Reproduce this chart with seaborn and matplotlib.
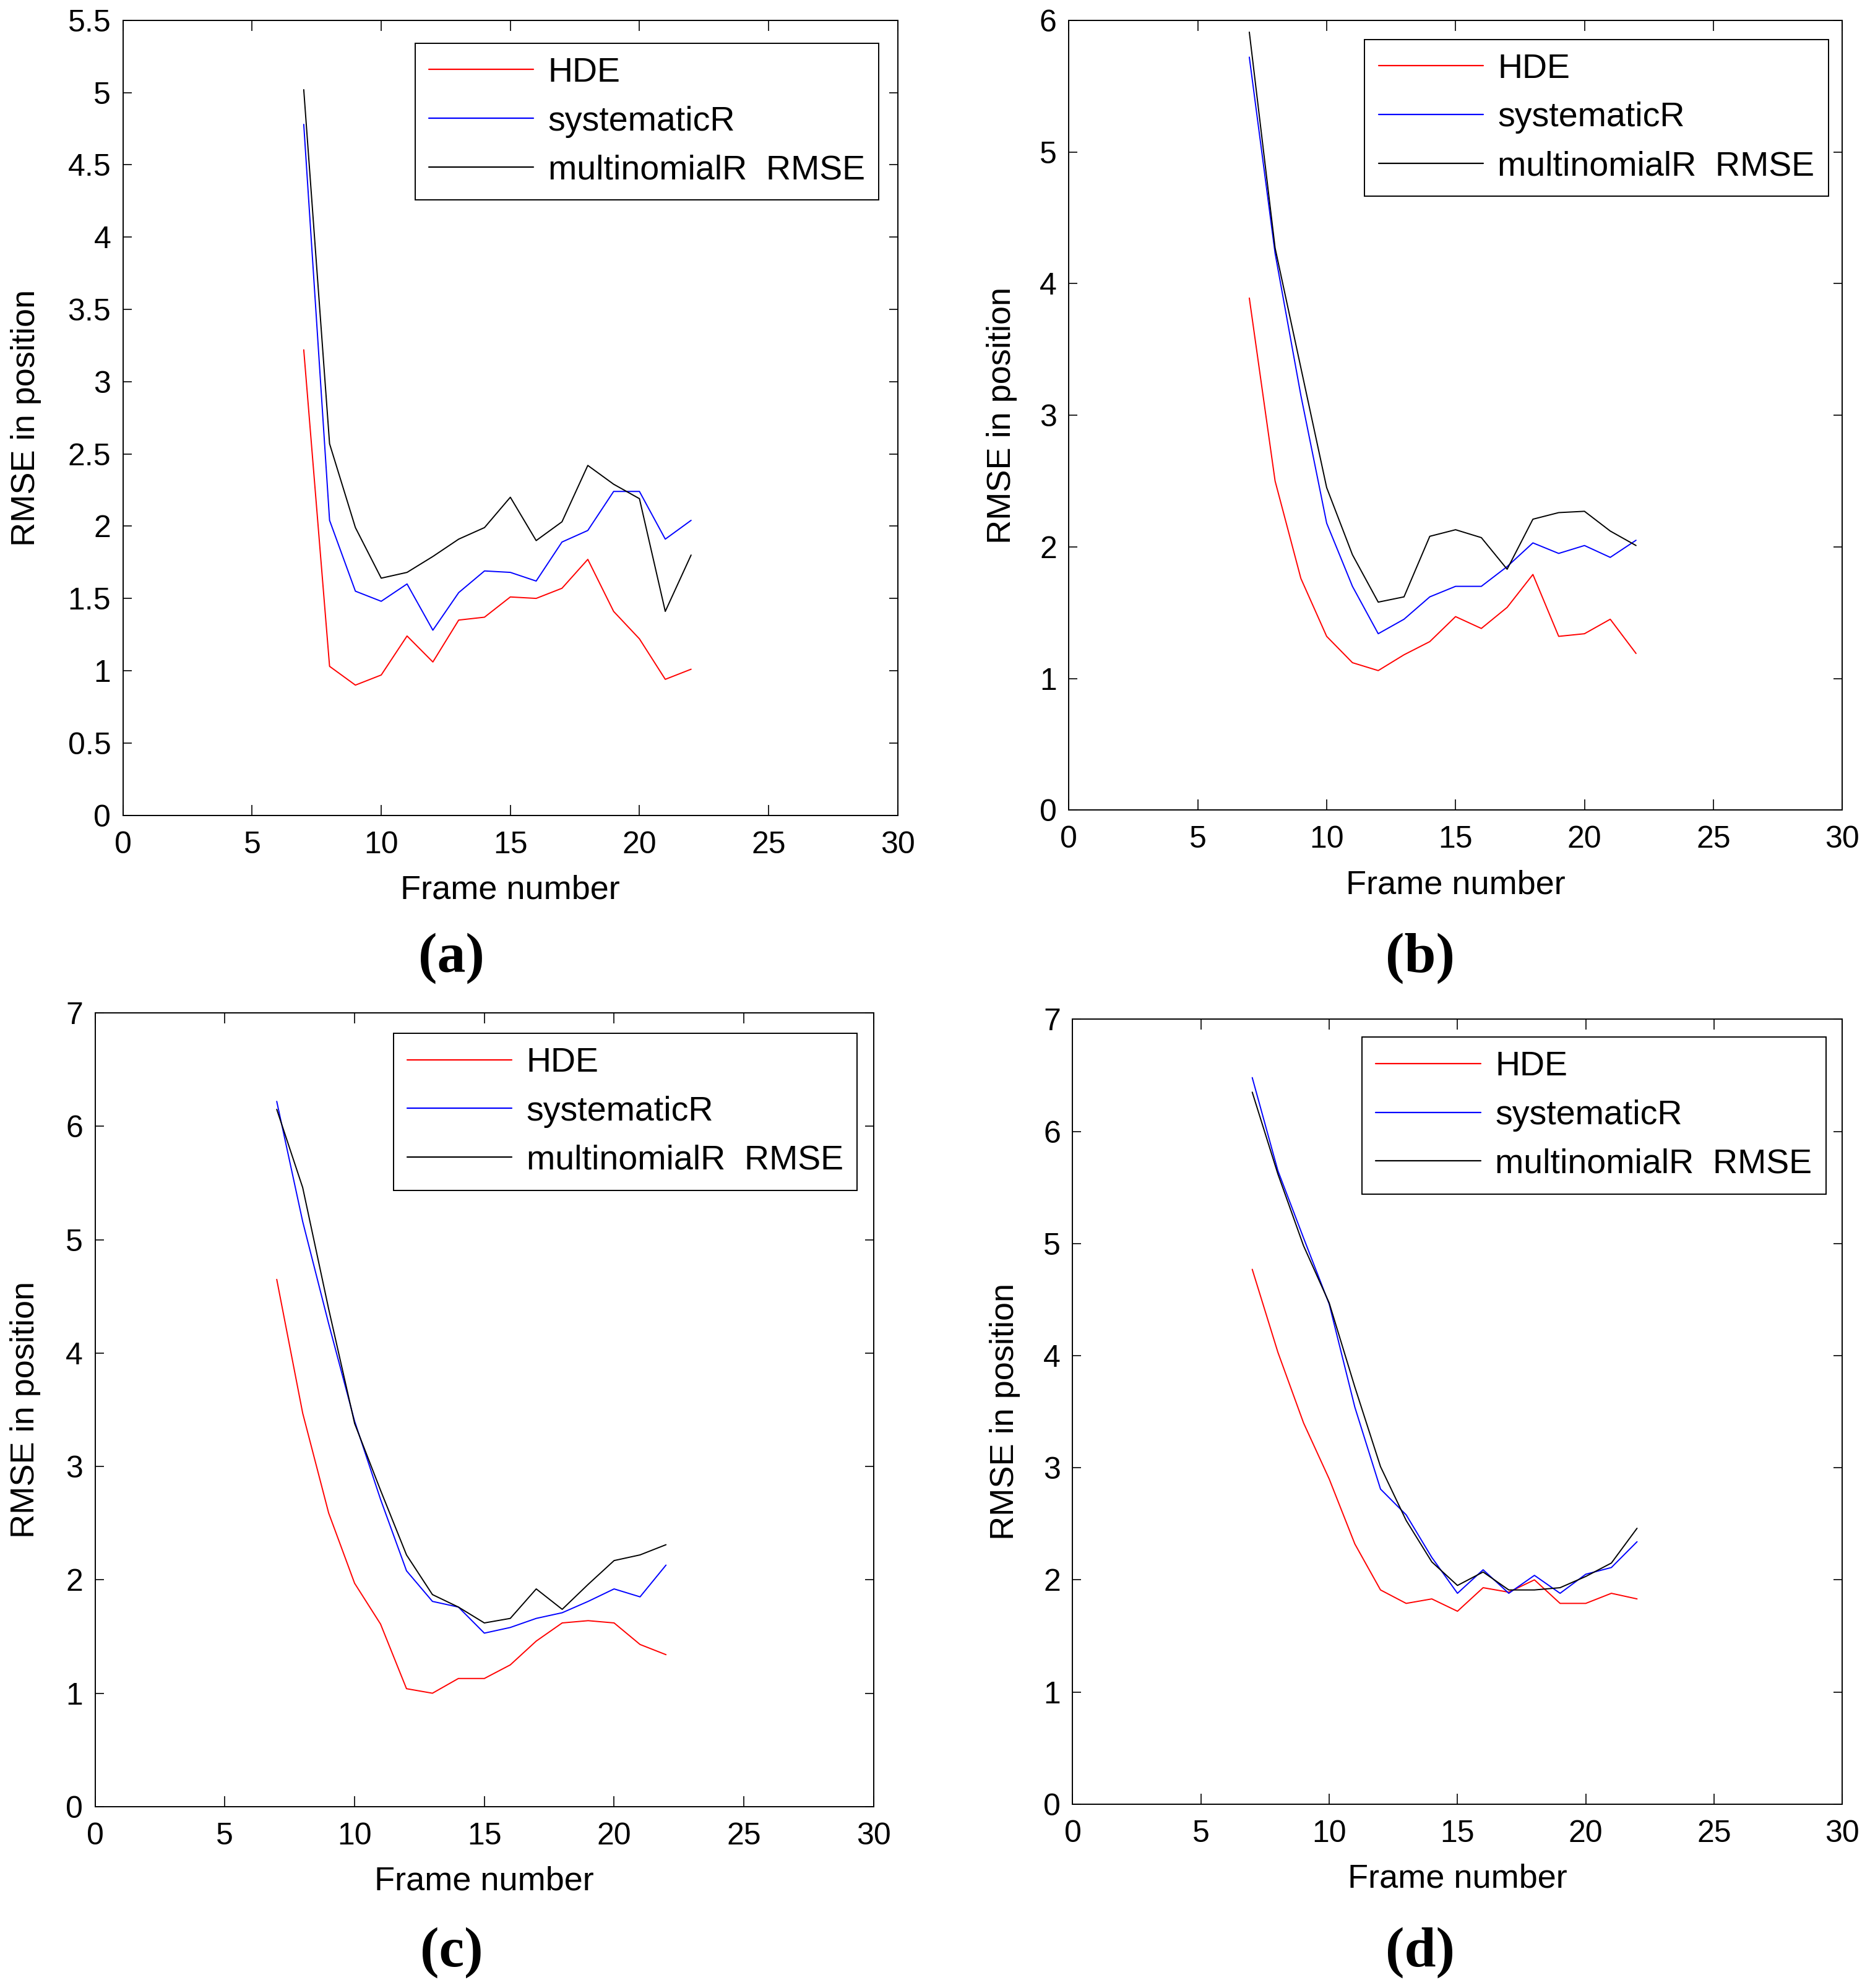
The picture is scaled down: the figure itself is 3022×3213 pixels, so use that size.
import numpy as np
import pandas as pd
import matplotlib
matplotlib.use("Agg")
import matplotlib.pyplot as plt
import matplotlib.ticker as mticker
import seaborn as sns

# ---------------- data ----------------
frames = list(range(7, 23))
methods = ["HDE", "systematicR", "multinomialR  RMSE"]
colors = ["#ff0000", "#0000ff", "#000000"]

a_hde = [3.22, 1.03, 0.90, 0.97, 1.24, 1.06, 1.35, 1.37, 1.51, 1.50, 1.57, 1.77, 1.41, 1.22, 0.94, 1.01]
a_sys = [4.78, 2.04, 1.55, 1.48, 1.60, 1.28, 1.54, 1.69, 1.68, 1.62, 1.89, 1.97, 2.24, 2.24, 1.91, 2.04]
a_mul = [5.02, 2.57, 1.99, 1.64, 1.68, 1.79, 1.91, 1.99, 2.20, 1.90, 2.03, 2.42, 2.29, 2.19, 1.41, 1.80]

b_hde = [3.89, 2.50, 1.76, 1.32, 1.12, 1.06, 1.18, 1.28, 1.47, 1.38, 1.54, 1.79, 1.32, 1.34, 1.45, 1.19]
b_sys = [5.72, 4.23, 3.15, 2.18, 1.70, 1.34, 1.45, 1.62, 1.70, 1.70, 1.85, 2.03, 1.95, 2.01, 1.92, 2.05]
b_mul = [5.91, 4.27, 3.36, 2.45, 1.94, 1.58, 1.62, 2.08, 2.13, 2.07, 1.83, 2.21, 2.26, 2.27, 2.12, 2.01]

c_hde = [4.65, 3.47, 2.59, 1.97, 1.61, 1.04, 1.00, 1.13, 1.13, 1.25, 1.46, 1.62, 1.64, 1.62, 1.43, 1.34]
c_sys = [6.22, 5.16, 4.26, 3.40, 2.71, 2.08, 1.81, 1.76, 1.53, 1.58, 1.66, 1.71, 1.81, 1.92, 1.85, 2.13]
c_mul = [6.15, 5.46, 4.39, 3.38, 2.79, 2.22, 1.87, 1.76, 1.62, 1.66, 1.92, 1.74, 1.96, 2.17, 2.22, 2.31]

d_hde = [4.77, 4.03, 3.40, 2.90, 2.32, 1.91, 1.79, 1.83, 1.72, 1.93, 1.89, 2.00, 1.79, 1.79, 1.88, 1.83]
d_sys = [6.48, 5.65, 5.05, 4.46, 3.54, 2.81, 2.58, 2.20, 1.88, 2.09, 1.88, 2.04, 1.88, 2.05, 2.11, 2.34]
d_mul = [6.35, 5.62, 4.98, 4.47, 3.72, 3.01, 2.53, 2.16, 1.95, 2.07, 1.91, 1.91, 1.93, 2.03, 2.15, 2.46]

panel_labels = ["(a)", "(b)", "(c)", "(d)"]
x_ticks = [0, 5, 10, 15, 20, 25, 30]
y_ticks_a = [0, 0.5, 1, 1.5, 2, 2.5, 3, 3.5, 4, 4.5, 5, 5.5]
y_ticks_b = [0, 1, 2, 3, 4, 5, 6]
y_ticks_c = [0, 1, 2, 3, 4, 5, 6, 7]
y_ticks_d = [0, 1, 2, 3, 4, 5, 6, 7]

# ---------------- style ----------------
sns.set_theme(style="white")
plt.rcParams["font.family"] = ["Liberation Sans", "DejaVu Sans"]
plt.rcParams["axes.linewidth"] = 0.7
plt.rcParams["text.color"] = "black"
plt.rcParams["axes.labelcolor"] = "black"
plt.rcParams["xtick.color"] = "black"
plt.rcParams["ytick.color"] = "black"

W, H = 3022, 3213
DPI = 200
fig = plt.figure(figsize=(W / DPI, H / DPI), dpi=DPI)

ov = 2.049  # overview scale
OW, OH = W / ov, H / ov

# axes boxes in overview pixels: left, right, top, bottom
boxes = [
    (97, 708, 16, 643),
    (843, 1453, 16, 639),
    (75, 689, 799, 1425),
    (846, 1453, 804, 1423),
]
legend_anchor = [(0.9755, 0.9713), (0.982, 0.9759), (0.9788, 0.9744), (0.9786, 0.9774)]
ylabel_x = [-0.105, -0.067, -0.070, -0.068]
label_pos = [(356, 756), (1120, 756), (356, 1540), (1120, 1540)]

series = [(a_hde, a_sys, a_mul), (b_hde, b_sys, b_mul), (c_hde, c_sys, c_mul), (d_hde, d_sys, d_mul)]
yticks_all = [y_ticks_a, y_ticks_b, y_ticks_c, y_ticks_d]

for i in range(4):
    l, r, t, b = boxes[i]
    ax = fig.add_axes([l / OW, 1 - b / OH, (r - l) / OW, (b - t) / OH])
    df = pd.DataFrame({
        "frame": frames * 3,
        "rmse": list(series[i][0]) + list(series[i][1]) + list(series[i][2]),
        "method": [methods[0]] * len(frames) + [methods[1]] * len(frames) + [methods[2]] * len(frames),
    })
    sns.lineplot(data=df, x="frame", y="rmse", hue="method", hue_order=methods,
                 palette=colors, linewidth=0.7, ax=ax, legend="full")
    yt = yticks_all[i]
    ax.set_xlim(0, 30)
    ax.set_ylim(yt[0], yt[-1])
    ax.set_xticks(x_ticks)
    ax.set_yticks(yt)
    ax.yaxis.set_major_formatter(mticker.FuncFormatter(lambda v, p: f"{v:g}"))
    ax.xaxis.set_major_formatter(mticker.FuncFormatter(lambda v, p: f"{v:g}"))
    ax.tick_params(axis="x", direction="in", top=True, bottom=True, length=6, width=0.6,
                   labelsize=18, pad=9, colors="black")
    ax.tick_params(axis="y", direction="in", left=True, right=True, length=5, width=0.6,
                   labelsize=18, pad=7, colors="black")
    for sp in ax.spines.values():
        sp.set_color("black")
        sp.set_linewidth(0.7)
    ax.set_xlabel("Frame number", fontsize=19.5, color="black", labelpad=9)
    ax.set_ylabel("RMSE in position", fontsize=19.5, color="black")
    ax.yaxis.set_label_coords(ylabel_x[i], 0.5)

    handles, labels = ax.get_legend_handles_labels()
    leg = ax.legend(handles, labels, loc="upper right", bbox_to_anchor=legend_anchor[i],
                    borderaxespad=0, fancybox=False, frameon=True, edgecolor="black",
                    framealpha=1, fontsize=20, handlelength=3.05, handletextpad=0.42,
                    labelspacing=0.48, borderpad=0.4)
    leg.get_frame().set_linewidth(0.7)
    for txt in leg.get_texts():
        txt.set_color("black")
    for ln in leg.get_lines():
        ln.set_linewidth(0.8)

    lx, ly = label_pos[i]
    fig.text(lx / OW, 1 - ly / OH, panel_labels[i], ha="center", va="center",
             fontsize=33, fontweight="bold", color="black",
             family=["Liberation Serif", "DejaVu Serif"])

fig.savefig("out.png", dpi=DPI, facecolor="white")
